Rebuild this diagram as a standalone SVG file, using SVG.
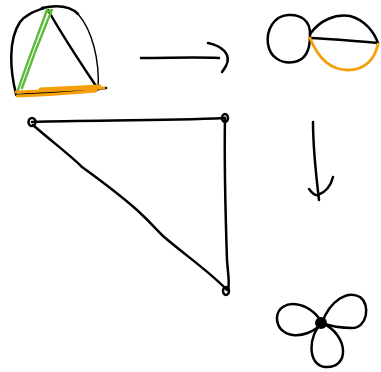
<svg xmlns="http://www.w3.org/2000/svg" width="381" height="372" viewBox="0 0 381 372">
<style>
.s{fill:none;stroke:#000;stroke-width:2.5;stroke-linecap:round;stroke-linejoin:round}
.t{fill:none;stroke:#000;stroke-width:1.4;stroke-linecap:round}
.g{fill:none;stroke:#5dba3b;stroke-width:2.4;stroke-linecap:round}
.o{fill:none;stroke:#f59f0a;stroke-width:2.8;stroke-linecap:round}
</style>
<rect width="381" height="372" fill="#fff"/>
<g id="triangle-shape">
<path class="s" d="M16,94 C10,70 8,40 20,22 C26,14 36,11 44,8"/>
<path class="s" d="M42,8 C56,5 70,6 78,14"/>
<path class="t" d="M78,14 C92,30 100,60 98,90"/>
<path class="s" d="M48,10 C65,40 82,65 96,86"/>
<path class="s" d="M16,95 C40,93 70,91 98,89 L106,88"/>
<path class="g" d="M18,90 C28,60 38,35 47,10 M22,88 C31,62 41,36 51,12 M46,12 L52,10"/>
<path class="o" d="M16,92 C45,91 75,89 104,88 M17,96 C45,95 72,93 96,91 M40,89 C60,88 80,87 100,86"/>
</g>
<g id="lens-shape">
<path class="s" d="M310,36 C311,20 300,14 288,15 C274,16 266,30 268,44 C270,58 282,64 294,62 C306,60 310,50 310,36"/>
<path class="s" d="M310,34 C320,20 335,14 350,16 C365,20 374,32 378,43"/>
<path class="s" d="M310,38 C330,39 355,41 378,43"/>
<path class="o" d="M310,38 C318,58 330,70 348,70 C366,70 375,58 378,44"/>
<path d="M313,44 C316,50 318,54 320,56" fill="none" stroke="#f59f0a" stroke-width="1.2"/>
</g>
<g id="right-triangle">
<path class="s" d="M32,122 C90,120 160,121 225,118"/>
<path class="s" d="M225,118 C224,170 226,230 227,260 C228,275 230,283 228,290"/>
<path class="s" d="M33,125 C50,140 70,155 82,167 C100,180 120,195 137,210 C150,222 155,228 163,236 C185,255 210,272 227,290"/>
<ellipse cx="32" cy="122" rx="3.5" ry="4" class="s"/>
<ellipse cx="225" cy="118" rx="3" ry="4" class="s"/>
<ellipse cx="226" cy="291" rx="3" ry="4" class="s"/>
</g>
<g id="propeller">
<path class="s" d="M322,323 C310,300 279,298 277,317 C276,338 305,342 322,323"/>
<path class="s" d="M322,323 C330,300 348,290 360,297 C371,305 367,328 352,328 C340,328 330,326 322,323"/>
<path class="s" d="M322,323 C308,335 307,365 325,367 C350,369 349,335 322,323"/>
<circle cx="321" cy="323" r="6" fill="#000"/>
</g>
<g id="connectors">
<path class="s" d="M141,58 C170,58 195,57 219,58"/>
<path class="s" d="M208,43 C222,46 232,54 226,66 C224,69 223,71 222,72"/>
<path class="s" d="M313,122 C313,150 316,175 319,200"/>
<path class="s" d="M309,189 C312,193 315,196 318,195 C326,192 331,185 333,177"/>
</g>
</svg>
